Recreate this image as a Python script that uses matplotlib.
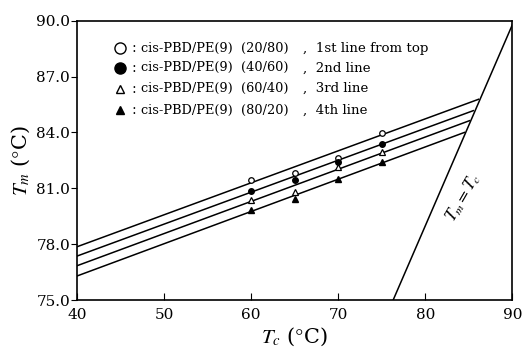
import numpy as np
import matplotlib.pyplot as plt

plt.rcParams['font.family'] = ['DejaVu Serif', 'Liberation Serif']
plt.rcParams['mathtext.fontset'] = 'stix'

# donnees
Tc = [60, 65, 70, 75]
Tm_20_80 = [81.45, 81.80, 82.65, 83.95]
Tm_40_60 = [80.88, 81.45, 82.40, 83.38]
Tm_60_40 = [80.35, 80.82, 82.15, 82.93]
Tm_80_20 = [79.85, 80.41, 81.50, 82.43]

# droites de regression (debut, fin)
fit_x0 = [40, 40, 40, 40]
fit_x1 = [86.1, 85.5, 85.06, 84.48]
fit_y0 = [77.86, 77.36, 76.84, 76.29]
fit_y1 = [85.78, 85.17, 84.63, 84.0]

# droite Tm = Tc
eq_x = [76.3, 90]
eq_y = [75, 89.8]

legend_labels = ['cis-PBD/PE(9)  (20/80)', 'cis-PBD/PE(9)  (40/60)',
                 'cis-PBD/PE(9)  (60/40)', 'cis-PBD/PE(9)  (80/20)']
legend_notes = [',  1st line from top', ',  2nd line', ',  3rd line', ',  4th line']

fig = plt.figure(figsize=(5.26, 3.47), dpi=100)
ax = fig.add_axes([0.1464, 0.1354, 0.8279, 0.8049])

for i in range(4):
    ax.plot([fit_x0[i], fit_x1[i]], [fit_y0[i], fit_y1[i]], color='black', lw=1.1)
ax.plot(eq_x, eq_y, color='black', lw=1.1)

ax.plot(Tc, Tm_20_80, 'o', mfc='white', mec='black', ms=4, mew=0.9)
ax.plot(Tc, Tm_40_60, 'o', color='black', ms=4)
ax.plot(Tc, Tm_60_40, '^', mfc='white', mec='black', ms=4, mew=0.9)
ax.plot(Tc, Tm_80_20, '^', color='black', ms=4)

ax.set_xlim(40, 90)
ax.set_ylim(75, 90)
ax.set_xticks(np.arange(40, 91, 10))
ax.set_yticks(np.arange(75, 90.1, 3))
ax.set_yticklabels(['%.1f' % v for v in np.arange(75, 90.1, 3)])
ax.tick_params(axis='x', direction='in', length=5, labelsize=11, pad=6)
ax.tick_params(axis='y', direction='out', length=4, labelsize=11, pad=1)
for s in ax.spines.values():
    s.set_linewidth(1.2)

ax.set_xlabel(r'$T_c$ ($\degree$C)', fontsize=15, labelpad=2)
ax.set_ylabel(r'$T_m$ ($\degree$C)', fontsize=15, labelpad=3)

# legende manuelle
ly = [0.901, 0.831, 0.757, 0.680]
styles = [dict(marker='o', mfc='white', mec='black', ms=8, mew=1),
          dict(marker='o', mfc='black', mec='black', ms=8),
          dict(marker='^', mfc='white', mec='black', ms=6, mew=1),
          dict(marker='^', mfc='black', mec='black', ms=6)]
for i in range(4):
    ax.plot([0.099], [ly[i]], transform=ax.transAxes, ls='none', **styles[i])
    ax.text(0.125, ly[i], ':', transform=ax.transAxes, va='center', fontsize=10)
    ax.text(0.148, ly[i], legend_labels[i], transform=ax.transAxes, va='center', fontsize=9.3)
    ax.text(0.518, ly[i], legend_notes[i], transform=ax.transAxes, va='center', fontsize=9.6)

ax.text(84.3, 80.5, r'$T_m = T_c$', rotation=60, ha='center', va='center', fontsize=12.5)

fig.savefig('out.png', dpi=100)
